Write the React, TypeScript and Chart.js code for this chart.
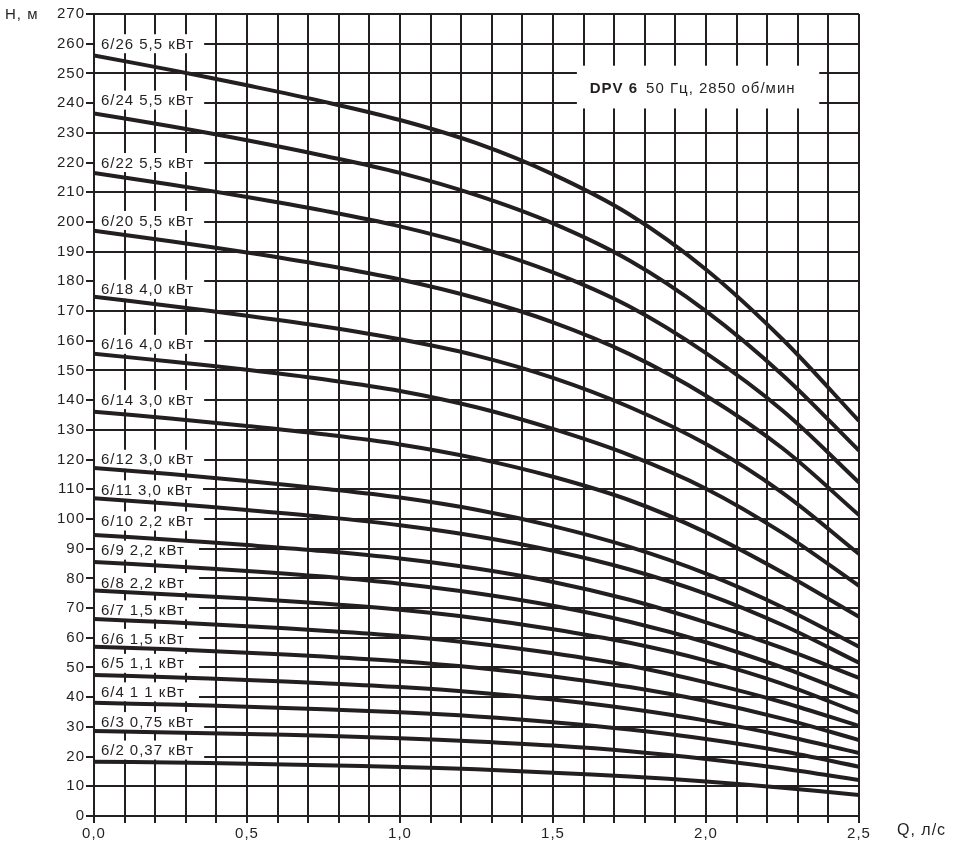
import React, { useEffect, useRef } from 'react';
import { Chart, registerables } from 'chart.js';

Chart.register(...registerables);

// ---- data ----
const flow = [0, 0.25, 0.5, 0.75, 1.0, 1.25, 1.5, 1.75, 2.0, 2.25, 2.5];

const head626 = [256, 251.2, 246, 240.5, 234.3, 226.5, 216, 202.5, 184, 160.5, 133];
const head624 = [236.5, 232.2, 227.5, 222.3, 216.5, 209, 199.5, 187, 170, 148.5, 123];
const head622 = [216.5, 212.6, 208.4, 203.8, 198.5, 191.7, 183, 171.5, 155.8, 136.5, 112.3];
const head620 = [197, 193.5, 189.7, 185.5, 180.6, 174.3, 166.2, 155.5, 141.5, 123.8, 101.3];
const head618 = [174.8, 171.7, 168.4, 164.8, 160.5, 155, 147.5, 137.7, 125.2, 108.8, 88.2];
const head616 = [155.6, 153, 150.2, 147, 143.1, 137.6, 130.3, 121.5, 110.2, 95.3, 77.5];
const head614 = [136.1, 133.8, 131.3, 128.5, 125.1, 120.4, 114.2, 106.3, 95.5, 82, 67.1];
const head612 = [117.2, 115.1, 112.8, 110.2, 107.2, 103.1, 97.6, 90.6, 81.6, 70.3, 57];
const head611 = [107, 105.1, 103, 100.7, 97.9, 94.2, 89.3, 83, 74.8, 64.3, 51.6];
const head610 = [94.6, 93, 91.2, 89.2, 86.7, 83.3, 78.8, 72.8, 65.2, 56.5, 46.5];
const head69 = [85.5, 84.1, 82.5, 80.6, 78.2, 75, 70.8, 65.4, 58.5, 50, 40];
const head68 = [75.9, 74.6, 73.2, 71.5, 69.4, 66.6, 62.9, 58.3, 52.3, 44.5, 34.7];
const head67 = [66.3, 65.2, 63.9, 62.4, 60.6, 58.1, 54.8, 50.6, 45, 38.3, 30.3];
const head66 = [57, 56.1, 55, 53.7, 52.1, 49.9, 47, 43.4, 38.7, 32.8, 25.6];
const head65 = [47.5, 46.7, 45.8, 44.7, 43.4, 41.6, 39.2, 36.1, 32.1, 27.1, 21.2];
const head64 = [38.1, 37.5, 36.8, 35.9, 34.9, 33.5, 31.6, 29.1, 25.9, 21.8, 16.6];
const head63 = [28.6, 28.1, 27.6, 27, 26.2, 25.1, 23.7, 21.8, 19.2, 16, 12.1];
const head62 = [18.3, 18, 17.6, 17.1, 16.5, 15.7, 14.6, 13.3, 11.6, 9.5, 7.1];

const pumpNames = ['6/26', '6/24', '6/22', '6/20', '6/18', '6/16', '6/14', '6/12', '6/11', '6/10', '6/9', '6/8', '6/7', '6/6', '6/5', '6/4', '6/3', '6/2'];
const pumpPower = ['5,5 кВт', '5,5 кВт', '5,5 кВт', '5,5 кВт', '4,0 кВт', '4,0 кВт', '3,0 кВт', '3,0 кВт', '3,0 кВт', '2,2 кВт', '2,2 кВт', '2,2 кВт', '1,5 кВт', '1,5 кВт', '1,1 кВт', '1 1 кВт', '0,75 кВт', '0,37 кВт'];
const labelHeads = [260, 241, 220, 200.5, 177.3, 158.8, 140.2, 120.1, 109.8, 99.3, 89.5, 78.6, 69.4, 59.8, 51.4, 41.8, 31.8, 22.2];
const curves = [head626, head624, head622, head620, head618, head616, head614, head612, head611, head610, head69, head68, head67, head66, head65, head64, head63, head62];

const xLabelValues = [0, 0.5, 1.0, 1.5, 2.0, 2.5];
const titleBold = 'DPV 6';
const titleRest = '50 Гц, 2850 об/мин';
const yAxisTitle = 'H, м';
const xAxisTitle = 'Q, л/с';

// ---- styles / positions ----
const INK = '#231f20';
const FONT = '"Liberation Sans", Arial, Helvetica, sans-serif';
const TITLE_BOX = { q0: 1.578, q1: 2.37, h0: 238.2, h1: 252.6, qText: 1.62, hText: 244.9 };

function setSpacing(c: any) {
  try {
    c.ctx.letterSpacing = '1px';
  } catch (e) {
    /* ignore */
  }
}

export default function App() {
  const ref = useRef<HTMLCanvasElement>(null);

  useEffect(() => {
    document.body.style.margin = '0';
    const canvas = ref.current!;

    const annot = {
      id: 'annot',
      beforeInit: (c: any) => setSpacing(c),
      beforeUpdate: (c: any) => setSpacing(c),
      beforeLayout: (c: any) => setSpacing(c),
      beforeDraw: (c: any) => {
        setSpacing(c);
        const ctx = c.ctx;
        ctx.save();
        ctx.fillStyle = '#ffffff';
        ctx.fillRect(0, 0, c.width, c.height);
        ctx.restore();
      },
      beforeDatasetsDraw: (c: any) => {
        const { ctx, chartArea } = c;
        const x = c.scales.x;
        const y = c.scales.y;
        ctx.save();
        setSpacing(c);
        ctx.textBaseline = 'middle';
        ctx.textAlign = 'left';
        ctx.font = `15px ${FONT}`;
        pumpNames.forEach((name, i) => {
          const cy = y.getPixelForValue(labelHeads[i]);
          const tx = chartArea.left + 7;
          const wName = ctx.measureText(name).width;
          const px = tx + wName + 5;
          const wPow = ctx.measureText(pumpPower[i]).width;
          const right = Math.max(px + wPow + 10, chartArea.left + 105);
          ctx.fillStyle = '#ffffff';
          ctx.fillRect(chartArea.left + 1, cy - 9.5, right - chartArea.left - 1, 19);
          ctx.fillStyle = INK;
          ctx.fillText(name, tx, cy + 1);
          ctx.fillText(pumpPower[i], px, cy + 1);
        });

        // title box
        const bx0 = x.getPixelForValue(TITLE_BOX.q0);
        const bx1 = x.getPixelForValue(TITLE_BOX.q1);
        const by0 = y.getPixelForValue(TITLE_BOX.h1);
        const by1 = y.getPixelForValue(TITLE_BOX.h0);
        ctx.fillStyle = '#ffffff';
        ctx.fillRect(bx0, by0, bx1 - bx0, by1 - by0);
        const tx = x.getPixelForValue(TITLE_BOX.qText);
        const ty = y.getPixelForValue(TITLE_BOX.hText);
        ctx.fillStyle = INK;
        ctx.font = `bold 15px ${FONT}`;
        ctx.fillText(titleBold, tx, ty);
        const wb = ctx.measureText(titleBold).width;
        ctx.font = `15px ${FONT}`;
        ctx.fillText(titleRest, tx + wb + 8, ty);
        ctx.restore();
      },
      afterDraw: (c: any) => {
        const { ctx } = c;
        ctx.save();
        setSpacing(c);
        ctx.fillStyle = INK;
        ctx.textBaseline = 'middle';
        ctx.textAlign = 'left';
        ctx.font = `15px ${FONT}`;
        ctx.fillText(yAxisTitle, 5, 15);
        ctx.font = `16px ${FONT}`;
        ctx.fillText(xAxisTitle, 897, 831);
        ctx.restore();
      },
    };

    const chart = new Chart(canvas, {
      type: 'line',
      data: {
        datasets: curves.map((vals, i) => ({
          label: pumpNames[i],
          data: flow.map((q, k) => ({ x: q, y: vals[k] })),
          borderColor: INK,
          borderWidth: 4,
          pointRadius: 0,
          fill: false,
          tension: 0.35,
          borderCapStyle: 'butt' as const,
        })),
      },
      options: {
        responsive: false,
        animation: false,
        devicePixelRatio: 1,
        layout: { padding: { left: 0, right: 97, top: 14, bottom: 0 } },
        plugins: { legend: { display: false }, tooltip: { enabled: false } },
        scales: {
          x: {
            type: 'linear',
            min: 0,
            max: 2.5,
            afterFit: (s: any) => {
              s.height = 30;
            },
            ticks: {
              stepSize: 0.1,
              autoSkip: false,
              maxRotation: 0,
              minRotation: 0,
              padding: 2,
              color: INK,
              font: { family: FONT, size: 15 },
              callback: (v: any) => {
                const n = Number(v);
                const hit = xLabelValues.find((t) => Math.abs(t - n) < 1e-6);
                return hit === undefined ? '' : hit.toFixed(1).replace('.', ',');
              },
            },
            grid: { color: INK, lineWidth: 2, tickLength: 7, tickColor: INK, drawTicks: true },
            border: { color: INK, width: 2 },
          },
          y: {
            type: 'linear',
            min: 0,
            max: 270,
            afterFit: (s: any) => {
              s.width = 94;
            },
            ticks: {
              stepSize: 10,
              autoSkip: false,
              padding: 1,
              color: INK,
              font: { family: FONT, size: 15 },
            },
            grid: { color: INK, lineWidth: 2, tickLength: 8, tickColor: INK, drawTicks: true },
            border: { color: INK, width: 2 },
          },
        },
      },
      plugins: [annot],
    });

    return () => chart.destroy();
  }, []);

  return <canvas ref={ref} width={956} height={846} style={{ display: 'block' }} />;
}
